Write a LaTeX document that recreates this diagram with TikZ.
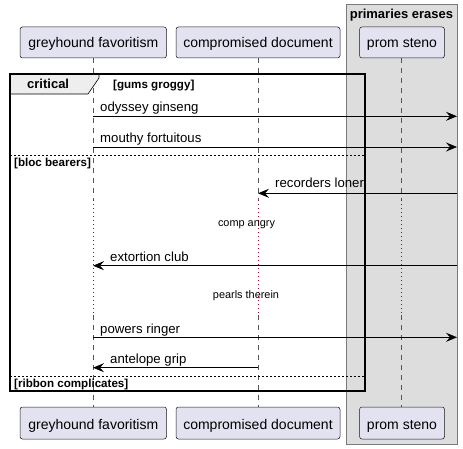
\documentclass[tikz,border=0pt]{standalone}
\usepackage{fontspec}
\setmainfont{Liberation Sans}
\usetikzlibrary{arrows.meta}
\definecolor{partfill}{HTML}{E2E2F0}
\definecolor{partline}{HTML}{181818}
\definecolor{groupfill}{HTML}{DDDDDD}
\definecolor{groupline}{HTML}{7A7A7A}
\definecolor{lifeline}{HTML}{555555}
\definecolor{delayline}{HTML}{8B0A3A}
\definecolor{tabfill}{HTML}{EEEEEE}
\tikzset{
  partbox/.style={draw=partline, line width=0.5pt, fill=partfill, rounded corners=2.5pt},
  parttext/.style={font=\fontsize{14}{16}\selectfont, anchor=base, inner sep=0pt},
  msgtext/.style={font=\fontsize{13.2}{15}\selectfont, anchor=base west, inner sep=0pt},
  smalltext/.style={font=\fontsize{10.9}{12}\selectfont, anchor=base, inner sep=0pt},
  guardtext/.style={font=\bfseries\fontsize{11.6}{13}\selectfont, anchor=base west, inner sep=0pt},
  lifedash/.style={draw=lifeline, line width=0.5pt, dash pattern=on 5pt off 5pt},
  lifedot/.style={draw=delayline, line width=0.8pt, dash pattern=on 0.8pt off 3.2pt},
  msg/.style={draw=black, line width=0.8pt, -{Stealth[length=11pt,width=9pt,inset=4pt]}},
  sep/.style={draw=black, line width=0.6pt, dash pattern=on 2pt off 2pt},
}
\begin{document}
\begin{tikzpicture}[x=1pt,y=-1pt]
\useasboundingbox (0,0) rectangle (463,449);
% group box
\fill[groupfill] (346,4) rectangle (457,444);
\draw[groupline, line width=0.8pt] (346,4) rectangle (457,444);
\node[font=\bfseries\fontsize{13}{15}\selectfont, anchor=base, inner sep=0pt] (grouptitle) at (401.5,18.5) {primaries erases};
% lifelines
\foreach \x/\n in {93/a,258/b,401/c}{
  \coordinate (\n top) at (\x,58);
  \coordinate (\n d1) at (\x,200);
  \coordinate (\n d2) at (\x,315);
  \coordinate (\n bot) at (\x,407);
  \draw[lifedash] (\n top) -- (\n d1);
  \draw[lifedot] (\n d1) -- (\n d2);
  \draw[lifedash] (\n d2) -- (\n bot);
}
% participants
\draw[partbox] (20,27) rectangle (166.5,58);
\node[parttext] (ga) at (93.3,48) {greyhound favoritism};
\draw[partbox] (176,27) rectangle (340,58);
\node[parttext] (cd) at (258,48) {compromised document};
\draw[partbox] (359.5,27) rectangle (444.5,58);
\node[parttext] (ps) at (402,48) {prom steno};
\draw[partbox] (20,407) rectangle (166.5,439);
\node[parttext] (gb) at (93.3,429) {greyhound favoritism};
\draw[partbox] (176,407) rectangle (340,439);
\node[parttext] (cdb) at (258,429) {compromised document};
\draw[partbox] (359.5,407) rectangle (444.5,439);
\node[parttext] (psb) at (402,429) {prom steno};
% critical frame
\draw[fill=tabfill, line width=0.6pt] (10,74) -- (99,74) -- (99,78) -- (88,94) -- (10,94) -- cycle;
\draw[line width=1.5pt] (10,74) rectangle (365,391);
\node[font=\bfseries\fontsize{13}{15}\selectfont, anchor=base west, inner sep=0pt] (crit) at (27,89) {critical};
\node[guardtext] (g1) at (113,89) {[gums groggy]};
\draw[sep] (10,155.5) -- (365,155.5);
\node[guardtext] (g2) at (14,166.5) {[bloc bearers]};
\draw[sep] (10,376) -- (365,376);
\node[guardtext] (g3) at (14,387.3) {[ribbon complicates]};
% endpoints on right edge
\coordinate (r1) at (457,116.3);
\coordinate (r2) at (457,147);
\coordinate (r3) at (457,193.3);
\coordinate (r4) at (457,265.7);
\coordinate (r5) at (457,337.3);
% messages
\coordinate (a1) at (93,116.3);
\draw[msg] (a1) -- (r1);
\node[msgtext] (m1) at (100,112) {odyssey ginseng};
\coordinate (a2) at (93,147);
\draw[msg] (a2) -- (r2);
\node[msgtext] (m2) at (100,142.5) {mouthy fortuitous};
\coordinate (b3) at (258,193.3);
\draw[msg] (r3) -- (b3);
\node[msgtext] (m3) at (275,188) {recorders loner};
\node[smalltext] (d1) at (246.5,226.5) {comp angry};
\coordinate (a4) at (93,265.7);
\draw[msg] (r4) -- (a4);
\node[msgtext] (m4) at (110,261) {extortion club};
\node[smalltext] (d2) at (246,298.3) {pearls therein};
\coordinate (a5) at (93,337.3);
\draw[msg] (a5) -- (r5);
\node[msgtext] (m5) at (100,333) {powers ringer};
\coordinate (b6) at (258,367.7);
\coordinate (a6) at (93,367.7);
\draw[msg] (b6) -- (a6);
\node[msgtext] (m6) at (110,363) {antelope grip};
\end{tikzpicture}
\end{document}
